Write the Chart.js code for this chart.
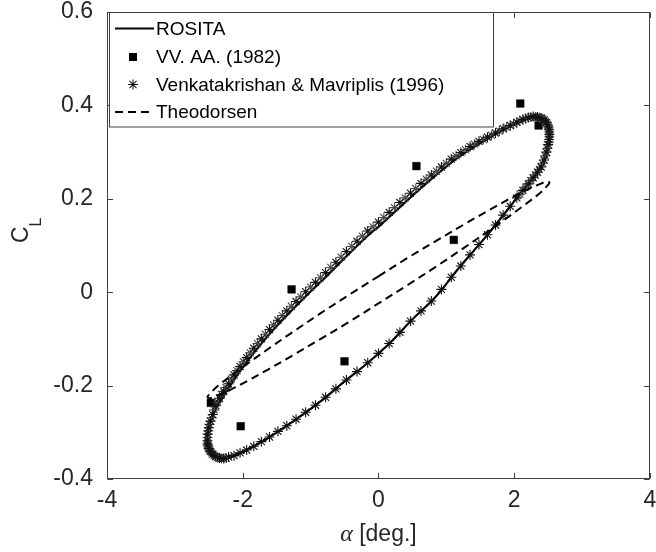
<!DOCTYPE html>
<html><head><meta charset="utf-8">
<script src="https://cdn.jsdelivr.net/npm/chart.js@4.4.0/dist/chart.umd.min.js"></script>
<style>html,body{margin:0;padding:0;background:#fff;}canvas{display:block;}</style>
</head><body>
<canvas id="c" width="656" height="552"></canvas>
<script>
const xTickValues = [-4, -2, 0, 2, 4];
const xTickLabels = ['-4', '-2', '0', '2', '4'];
const yTickValues = [-0.4, -0.2, 0, 0.2, 0.4, 0.6];
const yTickLabels = ['-0.4', '-0.2', '0', '0.2', '0.4', '0.6'];
const seriesNames = ['ROSITA', 'VV. AA. (1982)', 'Venkatakrishan & Mavriplis (1996)', 'Theodorsen'];

const rositaAlpha = [0.00, 0.30, 0.68, 1.17, 1.465, 1.66, 1.86, 2.02, 2.15, 2.27, 2.38, 2.46, 2.51, 2.53,
  2.51, 2.47, 2.42, 2.34, 2.22, 2.10, 1.90, 1.63, 1.40, 1.17, 0.83, 0.50, 0.195, -0.147, -0.49, -0.83,
  -1.22, -1.56, -1.80, -1.96, -2.13, -2.27, -2.38, -2.46, -2.51, -2.54,
  -2.52, -2.47, -2.39, -2.27, -2.15, -1.98, -1.81, -1.56, -1.32, -1.08, -0.83, -0.50, -0.15, 0.00];
const rositaCL = [0.140, 0.180, 0.230, 0.288, 0.316, 0.333, 0.349, 0.361, 0.369, 0.373, 0.371, 0.364, 0.352, 0.335,
  0.316, 0.292, 0.273, 0.256, 0.234, 0.213, 0.176, 0.127, 0.088, 0.049, -0.012, -0.058, -0.105, -0.150, -0.190, -0.231,
  -0.273, -0.306, -0.327, -0.339, -0.350, -0.356, -0.354, -0.345, -0.332, -0.315,
  -0.300, -0.272, -0.248, -0.220, -0.192, -0.157, -0.125, -0.082, -0.045, -0.010, 0.025, 0.073, 0.122, 0.140];

const vvAlpha = [-2.47, -2.03, -1.28, -0.50, 0.56, 1.11, 2.09, 2.36];
const vvCL = [-0.237, -0.287, 0.006, -0.148, 0.270, 0.112, 0.404, 0.357];

// Venkatakrishan & Mavriplis: darker asterisks
const vmAlpha = [-2.520, -2.515, -2.500, -2.475, -2.441, -2.397, -2.343, -2.280, -2.208, -2.128,
  -2.039, -1.942, -1.837, -1.725, -1.606, -1.481, -1.350, -1.214, -1.073, -0.928,
  -0.779, -0.627, -0.472, -0.316, -0.158, 0.000, 0.158, 0.316, 0.472, 0.627,
  0.779, 0.928, 1.073, 1.214, 1.350, 1.481, 1.606, 1.725, 1.837, 1.942,
  2.039, 2.128, 2.208, 2.280, 2.343, 2.397, 2.441, 2.475, 2.500, 2.515,
  2.520, 2.515, 2.500, 2.475, 2.441, 2.397, 2.343, 2.280, 2.208, 2.128,
  2.039, 1.942, 1.837, 1.725, 1.606, 1.481, 1.350, 1.214, 1.073, 0.928,
  0.779, 0.627, 0.472, 0.316, 0.158, 0.000, -0.158, -0.316, -0.472, -0.627,
  -0.779, -0.928, -1.073, -1.214, -1.350, -1.481, -1.606, -1.725, -1.837, -1.942,
  -2.039, -2.128, -2.208, -2.280, -2.343, -2.397, -2.441, -2.475, -2.500, -2.515];
const vmCL = [-0.318, -0.304, -0.290, -0.276, -0.262, -0.243, -0.227, -0.212, -0.196, -0.177,
  -0.159, -0.140, -0.120, -0.100, -0.080, -0.060, -0.040, -0.020, 0.001, 0.021,
  0.042, 0.064, 0.087, 0.109, 0.131, 0.150, 0.171, 0.192, 0.212, 0.233,
  0.251, 0.268, 0.285, 0.299, 0.312, 0.323, 0.332, 0.341, 0.350, 0.357,
  0.364, 0.370, 0.374, 0.376, 0.375, 0.373, 0.369, 0.363, 0.356, 0.348,
  0.338, 0.327, 0.316, 0.300, 0.283, 0.268, 0.257, 0.245, 0.232, 0.218,
  0.202, 0.184, 0.165, 0.144, 0.123, 0.102, 0.080, 0.056, 0.032, 0.006,
  -0.019, -0.040, -0.062, -0.086, -0.110, -0.131, -0.151, -0.170, -0.188, -0.207,
  -0.225, -0.242, -0.257, -0.272, -0.286, -0.298, -0.310, -0.320, -0.330, -0.338,
  -0.344, -0.350, -0.353, -0.356, -0.355, -0.352, -0.347, -0.341, -0.335, -0.327];

// Venkatakrishan & Mavriplis: lighter (grey) asterisks, dense on the upper branch and the tips
const vmGreyAlpha = [-2.519, -2.509, -2.489, -2.459, -2.420, -2.371, -2.313, -2.245, -2.169, -2.084,
  -1.991, -1.890, -1.782, -1.666, -1.545, -1.416, -1.283, -1.144, -1.001, -0.854,
  -0.703, -0.550, -0.394, -0.237, -0.079, 0.079, 0.237, 0.394, 0.550, 0.703,
  0.854, 1.001, 1.144, 1.283, 1.416, 1.545, 1.666, 1.782, 1.890, 1.991,
  2.084, 2.169, 2.245, 2.313, 2.371, 2.420, 2.459, 2.489, 2.509, 2.519,
  2.519, 2.509, 2.489, 2.459, 2.420, 2.371, 2.313, 2.245, 2.169, 2.084,
  -2.245, -2.313, -2.371, -2.420, -2.459, -2.489, -2.509, -2.519];
const vmGreyCL = [-0.311, -0.297, -0.283, -0.269, -0.252, -0.235, -0.219, -0.204, -0.186, -0.168,
  -0.149, -0.130, -0.110, -0.090, -0.070, -0.050, -0.030, -0.010, 0.011, 0.031,
  0.053, 0.075, 0.098, 0.120, 0.140, 0.160, 0.181, 0.202, 0.222, 0.242,
  0.259, 0.276, 0.292, 0.305, 0.317, 0.327, 0.336, 0.345, 0.353, 0.360,
  0.367, 0.372, 0.375, 0.375, 0.374, 0.371, 0.366, 0.359, 0.352, 0.343,
  0.333, 0.322, 0.308, 0.292, 0.276, 0.263, 0.251, 0.239, 0.225, 0.210,
  -0.355, -0.356, -0.354, -0.350, -0.344, -0.338, -0.331, -0.323];

const theoAlpha = [0, 0.437, 0.862, 1.26, 1.62, 1.93, 2.182, 2.368, 2.482, 2.52, 2.482, 2.368, 2.182, 1.93, 1.62, 1.26, 0.862, 0.437,
  0, -0.437, -0.862, -1.26, -1.62, -1.93, -2.182, -2.368, -2.482, -2.52, -2.482, -2.368, -2.182, -1.93, -1.62, -1.26, -0.862, -0.437, 0];
const theoCL = [0.034, 0.074, 0.111, 0.145, 0.175, 0.200, 0.219, 0.231, 0.237, 0.235, 0.227, 0.211, 0.190, 0.163, 0.131, 0.095, 0.056, 0.016,
  -0.024, -0.064, -0.101, -0.135, -0.165, -0.190, -0.209, -0.221, -0.227, -0.225, -0.217, -0.201, -0.180, -0.153, -0.121, -0.085, -0.046, -0.006, 0.034];

function pts(a, c) { return a.map((v, i) => ({ x: v, y: c[i] })); }

const AXIS_COLOR = '#404040';
const TEXT_COLOR = '#262626';
const FONT = "'Liberation Sans', Arial, sans-serif";

function drawStar(ctx, x, y, r) {
  ctx.beginPath();
  ctx.moveTo(x - r, y); ctx.lineTo(x + r, y);
  ctx.moveTo(x, y - r); ctx.lineTo(x, y + r);
  const d = r * Math.SQRT1_2;
  ctx.moveTo(x - d, y - d); ctx.lineTo(x + d, y + d);
  ctx.moveTo(x - d, y + d); ctx.lineTo(x + d, y - d);
  ctx.stroke();
}

const framePlugin = {
  id: 'framePlugin',
  afterDraw(chart) {
    const ctx = chart.ctx;
    const a = chart.chartArea;
    const xs = chart.scales.x, ys = chart.scales.y;
    ctx.save();
    ctx.strokeStyle = AXIS_COLOR;
    ctx.lineWidth = 1;
    const L = Math.round(a.left) + 0.5, R = Math.round(a.right) - 0.5;
    const T = Math.round(a.top) + 0.5, B = Math.round(a.bottom) - 0.5;
    ctx.strokeRect(L, T, R - L, B - T);
    const tl = 5.5;
    ctx.beginPath();
    xTickValues.forEach(v => {
      const px = Math.round(xs.getPixelForValue(v)) + 0.5;
      ctx.moveTo(px, B); ctx.lineTo(px, B - tl);
      ctx.moveTo(px, T); ctx.lineTo(px, T + tl);
    });
    yTickValues.forEach(v => {
      const py = Math.round(ys.getPixelForValue(v)) + 0.5;
      ctx.moveTo(L, py); ctx.lineTo(L + tl, py);
      ctx.moveTo(R, py); ctx.lineTo(R - tl, py);
    });
    ctx.stroke();

    // legend
    const lx = 109.5, ly = 12.5, lw = 384, lh = 114.5;
    ctx.fillStyle = '#fff';
    ctx.fillRect(lx, ly, lw, lh);
    ctx.strokeStyle = AXIS_COLOR;
    ctx.strokeRect(lx, ly, lw, lh);
    const rowY = [28.5, 57, 84.5, 112];
    const textX = 156;
    ctx.font = '19px ' + FONT;
    ctx.fillStyle = '#000';
    ctx.textBaseline = 'middle';
    ctx.textAlign = 'left';
    seriesNames.forEach((n, i) => ctx.fillText(n, textX, rowY[i] + 1));
    ctx.strokeStyle = '#000';
    ctx.lineWidth = 2;
    ctx.beginPath(); ctx.moveTo(115, rowY[0]); ctx.lineTo(154, rowY[0]); ctx.stroke();
    ctx.fillStyle = '#000';
    ctx.fillRect(133 - 4, rowY[1] - 4, 8, 8);
    ctx.lineWidth = 1.1;
    ctx.strokeStyle = '#1a1a1a';
    drawStar(ctx, 133, rowY[2], 5);
    ctx.lineWidth = 2;
    ctx.strokeStyle = '#000';
    ctx.setLineDash([8, 5]);
    ctx.beginPath(); ctx.moveTo(115, rowY[3]); ctx.lineTo(154, rowY[3]); ctx.stroke();
    ctx.setLineDash([]);

    // x title
    ctx.fillStyle = TEXT_COLOR;
    ctx.textBaseline = 'alphabetic';
    const alphaFont = "italic 24px 'Liberation Serif', 'DejaVu Serif', serif";
    const restFont = '23px ' + FONT;
    ctx.font = alphaFont; const wa = ctx.measureText('\u03b1').width;
    ctx.font = restFont; const wr = ctx.measureText(' [deg.]').width;
    const cx = (a.left + a.right) / 2;
    const sx = cx - (wa + wr) / 2;
    const by = 541;
    ctx.font = alphaFont; ctx.fillText('\u03b1', sx, by);
    ctx.font = restFont; ctx.fillText(' [deg.]', sx + wa, by);

    // y title C_L
    ctx.save();
    ctx.translate(28, 243);
    ctx.rotate(-Math.PI / 2);
    ctx.font = '23px ' + FONT;
    ctx.fillText('C', 0, 0);
    const wc = ctx.measureText('C').width;
    ctx.font = '16px ' + FONT;
    ctx.fillText('L', wc, 13);
    ctx.restore();

    ctx.restore();
  }
};

new Chart(document.getElementById('c'), {
  type: 'scatter',
  data: {
    datasets: [
      { label: seriesNames[0], data: pts(rositaAlpha, rositaCL), showLine: true, borderColor: '#000', borderWidth: 2.2,
        pointRadius: 0, tension: 0.35, fill: false, order: 4 },
      { label: seriesNames[1], data: pts(vvAlpha, vvCL), showLine: false, pointStyle: 'rect', pointRadius: 5.4,
        backgroundColor: '#000', borderColor: '#000', borderWidth: 0.5, order: 3 },
      { label: seriesNames[2], data: pts(vmGreyAlpha, vmGreyCL), showLine: false, pointStyle: 'star', pointRadius: 5,
        backgroundColor: 'rgba(0,0,0,0)', borderColor: '#4a4a4a', borderWidth: 1.1, order: 2 },
      { label: seriesNames[2], data: pts(vmAlpha, vmCL), showLine: false, pointStyle: 'star', pointRadius: 5,
        backgroundColor: 'rgba(0,0,0,0)', borderColor: '#111', borderWidth: 1.1, order: 1 },
      { label: seriesNames[3], data: pts(theoAlpha, theoCL), showLine: true, borderColor: '#000', borderWidth: 2,
        borderDash: [8, 5], pointRadius: 0, tension: 0.35, fill: false, order: 0 }
    ]
  },
  options: {
    responsive: false,
    animation: false,
    devicePixelRatio: 1,
    layout: { padding: { left: 0, right: 3, top: 12, bottom: 0 } },
    plugins: { legend: { display: false }, tooltip: { enabled: false } },
    scales: {
      x: {
        type: 'linear', min: -4, max: 4,
        grid: { display: false, drawTicks: false },
        border: { display: false },
        afterBuildTicks: s => { s.ticks = xTickValues.map(v => ({ value: v })); },
        afterFit: s => { s.height = 73; s.paddingLeft = 0; s.paddingRight = 0; },
        ticks: {
          padding: 8, autoSkip: false, maxRotation: 0, color: TEXT_COLOR,
          font: { family: FONT, size: 23 },
          callback: v => xTickLabels[xTickValues.indexOf(v)]
        }
      },
      y: {
        type: 'linear', min: -0.4, max: 0.6,
        grid: { display: false, drawTicks: false },
        border: { display: false },
        afterBuildTicks: s => { s.ticks = yTickValues.map(v => ({ value: v })); },
        afterFit: s => { s.width = 107; s.paddingTop = 0; s.paddingBottom = 0; },
        ticks: {
          padding: 14, autoSkip: false, color: TEXT_COLOR,
          font: { family: FONT, size: 23 },
          callback: v => yTickLabels[yTickValues.indexOf(v)]
        }
      }
    }
  },
  plugins: [framePlugin]
});
</script>
</body></html>
